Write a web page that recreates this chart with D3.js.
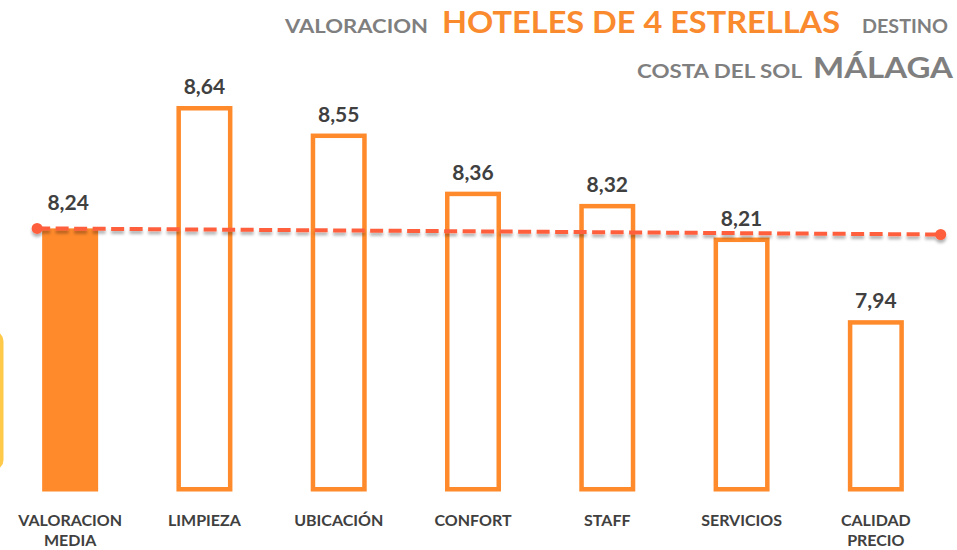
<!DOCTYPE html>
<html>
<head>
<meta charset="utf-8">
<script src="https://cdn.jsdelivr.net/npm/d3@7/dist/d3.min.js"></script>
<style>
  html, body { margin: 0; padding: 0; background: #ffffff; }
  svg { display: block; }
  text { font-family: Lato, "Open Sans", sans-serif; font-weight: 700; }
</style>
</head>
<body>
<svg id="chart" width="957" height="550"></svg>
<script>
// ---- data ----
const categories = ["VALORACION\nMEDIA", "LIMPIEZA", "UBICACIÓN", "CONFORT", "STAFF", "SERVICIOS", "CALIDAD\nPRECIO"];
const values = [8.24, 8.64, 8.55, 8.36, 8.32, 8.21, 7.94];
const valueLabels = ["8,24", "8,64", "8,55", "8,36", "8,32", "8,21", "7,94"];
const averageLine = [8.24, 8.22];   // start / end of the dashed average line
const titleLine1 = [
  { text: "VALORACION", big: false },
  { text: "HOTELES DE 4 ESTRELLAS", big: true },
  { text: "DESTINO", big: false }
];
const titleLine2 = [
  { text: "COSTA DEL SOL", big: false },
  { text: "MÁLAGA", big: true }
];

// ---- styles ----
const ORANGE = "#FF8A2B";
const LINE_RED = "#FF5F3D";
const GRAY = "#7F7F7F";
const DARK = "#404040";

const svg = d3.select("#chart");

const defs = svg.append("defs");
const f = defs.append("filter").attr("id", "shadow").attr("x", "-5%").attr("y", "-200%").attr("width", "110%").attr("height", "500%");
f.append("feDropShadow").attr("dx", 0).attr("dy", 3).attr("stdDeviation", 1.8).attr("flood-color", "#000").attr("flood-opacity", 0.3);

// scales
const x = d3.scaleBand().domain(categories).range([3, 943]).paddingInner(0.583).paddingOuter(0.2915);
const y = d3.scaleLinear().domain([7.38, 8.64]).range([491.5, 106]);
const bw = x.bandwidth();
const sw = 4.5;

// yellow decoration at left edge
svg.append("rect").attr("x", -30).attr("y", 331).attr("width", 33.5).attr("height", 139)
  .attr("rx", 10).attr("fill", "#FFC94A");

// bars
const bars = svg.append("g");
categories.forEach((c, i) => {
  const v = values[i];
  if (i === 0) {
    bars.append("rect").attr("x", x(c)).attr("y", y(v)).attr("width", bw)
      .attr("height", y.range()[0] - y(v)).attr("fill", ORANGE);
  } else {
    bars.append("rect").attr("x", x(c) + sw / 2).attr("y", y(v) + sw / 2)
      .attr("width", bw - sw).attr("height", y.range()[0] - y(v) - sw)
      .attr("fill", "#fff").attr("stroke", ORANGE).attr("stroke-width", sw);
  }
});

// average dashed line
const xStart = x(categories[0]) + bw / 2 - 33;
const xEnd = x.range()[1] - 2.3;
const lg = svg.append("g").attr("filter", "url(#shadow)");
lg.append("line").attr("x1", xStart).attr("y1", y(averageLine[0]))
  .attr("x2", xEnd).attr("y2", y(averageLine[1]))
  .attr("stroke", LINE_RED).attr("stroke-width", 4).attr("stroke-dasharray", "13,5.5");
[[xStart, averageLine[0]], [xEnd, averageLine[1]]].forEach(([px, v]) => {
  lg.append("circle").attr("cx", px).attr("cy", y(v)).attr("r", 5.5).attr("fill", LINE_RED);
});

// value labels
categories.forEach((c, i) => {
  const v = values[i];
  const by = i === 0 ? y(v) - 18.5 : y(v) - 12;
  svg.append("text").attr("x", x(c) + bw / 2 - (i === 0 ? 2 : 0)).attr("y", by)
    .attr("text-anchor", "middle").attr("font-size", 21).attr("fill", DARK)
    .text(valueLabels[i]);
});

// category labels
categories.forEach((c) => {
  const lines = c.split("\n");
  const t = svg.append("text").attr("text-anchor", "middle").attr("font-size", 16).attr("fill", DARK);
  lines.forEach((ln, j) => {
    t.append("tspan").attr("x", x(c) + bw / 2).attr("y", 526 + j * 20).text(ln);
  });
});

// titles
const t1pos = [[285, 143], [442, 398], [862, 86]];
titleLine1.forEach((p, i) => {
  svg.append("text").attr("x", t1pos[i][0]).attr("y", 33)
    .attr("font-size", p.big ? 30 : 18.5).attr("fill", p.big ? "#FA8A2E" : GRAY)
    .attr("textLength", t1pos[i][1]).attr("lengthAdjust", "spacingAndGlyphs")
    .text(p.text);
});
const t2pos = [[637, 165], [813, 140]];
titleLine2.forEach((p, i) => {
  svg.append("text").attr("x", t2pos[i][0]).attr("y", 78)
    .attr("font-size", p.big ? 29 : 18.5).attr("fill", GRAY)
    .attr("textLength", t2pos[i][1]).attr("lengthAdjust", "spacingAndGlyphs")
    .text(p.text);
});
</script>
</body>
</html>
